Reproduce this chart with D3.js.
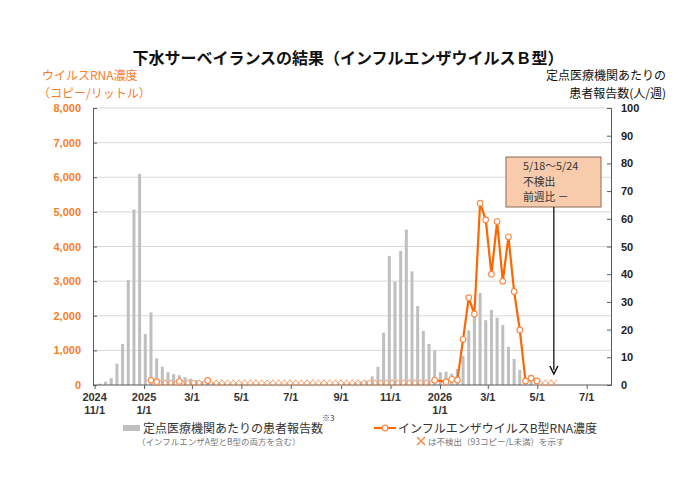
<!DOCTYPE html>
<html>
<head>
<meta charset="utf-8">
<script src="https://cdn.jsdelivr.net/npm/d3@7"></script>
<style>
  body { margin: 0; background: #fff; }
  svg { display: block; }
  .jp { font-family: "Noto Sans CJK JP", sans-serif; }
  .num { font-family: "Liberation Sans", Arial, sans-serif; font-weight: bold; }
</style>
</head>
<body>
<div id="chart"></div>
<script>
// weekly data, first week starts Mon 2024-11-04
const firstWeek = new Date(2024, 10, 4);
const weekCount = 81;

// patients per sentinel site (right axis)
const patients = [
  0.5, 1.2, 2.5, 7.7, 14.8, 37.9, 63.4, 76.2, 18.4, 26.2,
  9.6, 6.6, 4.6, 3.9, 3.5, 2.8, 2.3, 1.8, 1.4, 1.1,
  0.9, 0.7, 0.6, 0.5, 0.4, 0.3, 0.3, 0.2, 0.2, 0.2,
  0.1, 0.1, 0.1, 0.1, 0.1, 0.1, 0.1, 0.1, 0.2, 0.2,
  0.2, 0.2, 0.3, 0.4, 0.6, 0.9, 1.3, 1.6, 3.1, 6.6,
  18.9, 46.6, 37.4, 48.4, 56.1, 41.0, 28.5, 19.5, 14.8, 12.6,
  4.6, 4.8, 4.1, 5.8, 10.6, 19.7, 25.3, 33.2, 23.4, 27.1,
  24.3, 21.7, 13.8, 9.4, 5.4, 2.5, 1.6, null, null, null, null
];

// influenza B RNA (copies/L, left axis); "ND" = not detected, null = no sample
const rna = [
  null, null, null, null, null, null, null, null, null, 135,
  95, "ND", "ND", "ND", 100, "ND", "ND", "ND", "ND", 130,
  "ND", "ND", "ND", "ND", "ND", "ND", "ND", "ND", "ND", "ND",
  "ND", "ND", "ND", "ND", "ND", "ND", "ND", "ND", "ND", "ND",
  "ND", "ND", "ND", "ND", "ND", "ND", "ND", "ND", "ND", "ND",
  "ND", "ND", "ND", "ND", "ND", "ND", "ND", "ND", "ND", 136,
  null, 95, 165, 144, 1320, 2520, 2050, 5250, 4770, 3200,
  4720, 3000, 4280, 2700, 1590, 116, 200, 116, "ND", "ND", "ND"
];
const ndPlotValue = 60;

const leftTicks = [0, 1000, 2000, 3000, 4000, 5000, 6000, 7000, 8000];
const rightTicks = [0, 10, 20, 30, 40, 50, 60, 70, 80, 90, 100];
const xTicks = [
  { date: new Date(2024, 10, 1), l1: "2024", l2: "11/1" },
  { date: new Date(2025, 0, 1), l1: "2025", l2: "1/1" },
  { date: new Date(2025, 2, 1), l1: "3/1" },
  { date: new Date(2025, 4, 1), l1: "5/1" },
  { date: new Date(2025, 6, 1), l1: "7/1" },
  { date: new Date(2025, 8, 1), l1: "9/1" },
  { date: new Date(2025, 10, 1), l1: "11/1" },
  { date: new Date(2026, 0, 1), l1: "2026", l2: "1/1" },
  { date: new Date(2026, 2, 1), l1: "3/1" },
  { date: new Date(2026, 4, 1), l1: "5/1" },
  { date: new Date(2026, 6, 1), l1: "7/1" }
];
const noteLines = ["5/18～5/24", "不検出", "前週比 －"];

const weeks = d3.range(weekCount).map(i => ({
  i: i,
  date: d3.timeDay.offset(firstWeek, i * 7),
  patients: patients[i],
  rna: rna[i]
}));

const width = 700, height = 485;
const orange = "#ff6600";
const orangeText = "#f97c2a";

const svg = d3.select("#chart").append("svg")
  .attr("width", width)
  .attr("height", height);

const x = d3.scaleTime()
  .domain([new Date(2024, 9, 30), new Date(2026, 6, 31)])
  .range([93, 611]);
// plot each week at its middle
const xw = d => x(d3.timeHour.offset(d.date, 84));

const yL = d3.scaleLinear().domain([0, 8000]).range([385, 108]);
const yR = d3.scaleLinear().domain([0, 100]).range([385, 108]);

// gridlines
svg.append("g")
  .selectAll("line")
  .data(leftTicks.slice(1))
  .join("line")
  .attr("x1", 93).attr("x2", 611)
  .attr("y1", d => yL(d)).attr("y2", d => yL(d))
  .attr("stroke", "#d9d9d9")
  .attr("stroke-width", 1);

// bars
svg.append("g")
  .selectAll("rect")
  .data(weeks.filter(d => d.patients != null))
  .join("rect")
  .attr("x", d => xw(d) - 1.5)
  .attr("width", 3)
  .attr("y", d => yR(d.patients))
  .attr("height", d => yR(0) - yR(d.patients))
  .attr("fill", "#bfbfbf");

// axes
const axL = svg.append("g")
  .attr("transform", "translate(93,0)")
  .call(d3.axisLeft(yL).tickValues(leftTicks).tickSize(-4).tickPadding(12)
    .tickFormat(d3.format(",")));
axL.selectAll("text").attr("class", "num").attr("fill", orangeText).style("font-size", "11px");

const axR = svg.append("g")
  .attr("transform", "translate(611,0)")
  .call(d3.axisRight(yR).tickValues(rightTicks).tickSize(-4).tickPadding(10));
axR.selectAll("text").attr("class", "num").attr("fill", "#222").style("font-size", "11px");

const axB = svg.append("g")
  .attr("transform", "translate(0,385)")
  .call(d3.axisBottom(x).tickValues(xTicks.map(d => d.date)).tickSize(4).tickFormat(""));
axB.select(".domain").attr("d", "M93,0H611");

[axL, axR, axB].forEach(a => {
  a.select(".domain").attr("stroke", "#595959");
  a.selectAll(".tick line").attr("stroke", "#595959");
});

const xl = svg.append("g").attr("class", "num").style("font-size", "11px").attr("fill", "#333");
xl.selectAll("text.l1")
  .data(xTicks)
  .join("text")
  .attr("class", "l1")
  .attr("x", d => x(d.date))
  .attr("y", 401)
  .attr("text-anchor", "middle")
  .text(d => d.l1);
xl.selectAll("text.l2")
  .data(xTicks.filter(d => d.l2))
  .join("text")
  .attr("class", "l2")
  .attr("x", d => x(d.date))
  .attr("y", 414)
  .attr("text-anchor", "middle")
  .text(d => d.l2);

// RNA line
const sampled = weeks.filter(d => d.rna != null);
const line = d3.line()
  .defined(d => d.rna !== "ND")
  .x(d => xw(d))
  .y(d => yL(d.rna));
svg.append("path")
  .datum(sampled)
  .attr("d", line)
  .attr("fill", "none")
  .attr("stroke", orange)
  .attr("stroke-width", 2.2);

const xMark = "M-3.2,-3.2L3.2,3.2M-3.2,3.2L3.2,-3.2";
svg.append("g")
  .selectAll("path")
  .data(sampled.filter(d => d.rna === "ND"))
  .join("path")
  .attr("transform", d => `translate(${xw(d)},${yL(ndPlotValue)})`)
  .attr("d", xMark)
  .attr("stroke", "#fb9d60")
  .attr("stroke-width", 1)
  .attr("fill", "none");

svg.append("g")
  .selectAll("circle")
  .data(sampled.filter(d => d.rna !== "ND"))
  .join("circle")
  .attr("cx", d => xw(d))
  .attr("cy", d => yL(d.rna))
  .attr("r", 2.8)
  .attr("fill", "#fff")
  .attr("stroke", "#ff8a47")
  .attr("stroke-width", 1.2);

// title
svg.append("text")
  .attr("class", "jp")
  .attr("x", 348).attr("y", 64)
  .attr("text-anchor", "middle")
  .style("font-size", "16px").style("font-weight", "bold")
  .attr("fill", "#111")
  .text("下水サーベイランスの結果（インフルエンザウイルスＢ型）");

// axis titles
const lt = svg.append("g").attr("class", "jp").style("font-size", "12px").attr("fill", orangeText);
lt.append("text").attr("x", 42).attr("y", 80).text("ウイルスRNA濃度");
lt.append("text").attr("x", 38).attr("y", 98).text("（コピー/リットル）");

const rt = svg.append("g").attr("class", "jp").style("font-size", "12px").attr("fill", "#111")
  .attr("text-anchor", "end");
rt.append("text").attr("x", 666).attr("y", 80).text("定点医療機関あたりの");
rt.append("text").attr("x", 666).attr("y", 98).text("患者報告数(人/週)");

// annotation for latest week
const last = weeks[weekCount - 1];
const ax = xw(last);
svg.append("rect")
  .attr("x", 506).attr("y", 157).attr("width", 95).attr("height", 50)
  .attr("fill", "#f8cbad").attr("stroke", "#8c6b55").attr("stroke-width", 1);
svg.append("g").attr("class", "jp").style("font-size", "10.8px").attr("fill", "#333")
  .selectAll("text")
  .data(noteLines)
  .join("text")
  .attr("x", 523)
  .attr("y", (d, i) => 170 + i * 15.6)
  .text(d => d);
svg.append("line")
  .attr("x1", ax).attr("x2", ax).attr("y1", 207).attr("y2", 370)
  .attr("stroke", "#000").attr("stroke-width", 1.2);
svg.append("path")
  .attr("d", `M${ax - 4},${366}L${ax},${374}L${ax + 4},${366}`)
  .attr("fill", "none").attr("stroke", "#000").attr("stroke-width", 1.4);

// legend
const lg = svg.append("g").attr("class", "jp");
lg.append("rect").attr("x", 123).attr("y", 425).attr("width", 17).attr("height", 6).attr("fill", "#bfbfbf");
lg.append("text").attr("x", 143).attr("y", 433).style("font-size", "12px").attr("fill", "#333")
  .text("定点医療機関あたりの患者報告数");
lg.append("text").attr("x", 322).attr("y", 421).style("font-size", "8px").attr("fill", "#333").text("※3");
lg.append("text").attr("x", 137).attr("y", 445).style("font-size", "8.5px").attr("fill", "#777")
  .text("（インフルエンザA型とB型の両方を含む）");

lg.append("line").attr("x1", 374).attr("x2", 396).attr("y1", 428).attr("y2", 428)
  .attr("stroke", orange).attr("stroke-width", 2.2);
lg.append("circle").attr("cx", 385).attr("cy", 428).attr("r", 2.8)
  .attr("fill", "#fff").attr("stroke", "#ff8a47").attr("stroke-width", 1.2);
lg.append("text").attr("x", 398).attr("y", 433).style("font-size", "12px").attr("fill", "#333")
  .text("インフルエンザウイルスB型RNA濃度");
lg.append("path").attr("transform", "translate(421,441)")
  .attr("d", "M-4,-4L4,4M-4,4L4,-4").attr("stroke", "#fb8a40").attr("stroke-width", 1.5);
lg.append("text").attr("x", 428).attr("y", 445).style("font-size", "8.5px").attr("fill", "#777")
  .text("は不検出（93コピー/L未満）を示す");
</script>
</body>
</html>
